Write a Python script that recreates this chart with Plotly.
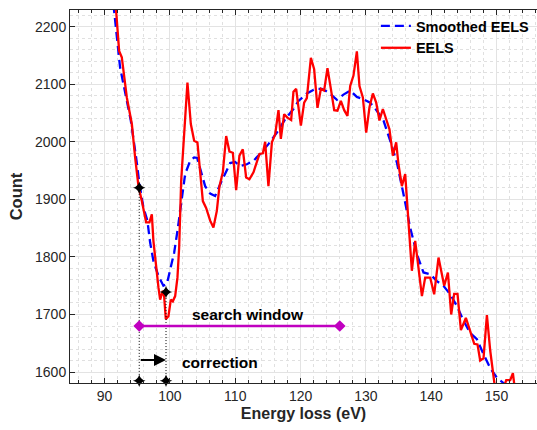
import plotly.graph_objects as go

# ---- data ----
eels_e = [91.2, 91.76, 92.22, 92.63, 93.40, 94.17, 94.67, 95.18, 95.70, 96.36, 96.86, 97.23, 97.47, 97.89,
          98.09, 98.24, 98.50, 98.91, 99.11, 99.37, 99.77, 100.14, 100.44, 100.80, 101.15, 101.41, 101.72,
          102.17, 102.68, 103.20, 103.71, 104.21, 105.04, 105.54, 106.16, 106.66, 107.18, 107.58, 108.10,
          108.61, 109.11, 109.63, 110.14, 110.64, 111.16, 111.67, 112.17, 112.79, 113.31, 113.71, 114.23,
          114.58, 115.08, 115.61, 116.11, 116.62, 116.98, 117.49, 117.99, 118.56, 118.91, 119.33, 119.68,
          120.05, 120.55, 120.96, 121.58, 122.08, 122.59, 123.11, 123.61, 124.12, 124.64, 125.15, 125.65,
          126.17, 126.68, 127.18, 127.60, 128.10, 128.62, 129.02, 129.54, 130.05, 130.55, 131.07, 131.58,
          132.08, 132.60, 133.22, 133.61, 134.13, 134.64, 134.99, 135.51, 136.02, 136.52, 137.04, 137.55,
          138.05, 138.58, 139.08, 139.85, 140.46, 141.12, 141.53, 141.99, 142.56, 143.06, 143.52, 144.03,
          144.55, 145.31, 145.97, 146.59, 147.09, 147.50, 148.01, 148.53, 149.04, 149.80, 150.57, 151.49,
          152.10, 152.51, 152.87]
eels_counts = [2270, 2228, 2158, 2147, 2077, 2031, 1973, 1923, 1897, 1860, 1860, 1874, 1828, 1779,
               1758, 1747, 1726, 1741, 1732, 1692, 1697, 1726, 1723, 1732, 1764, 1816, 1932,
               2010, 2103, 2031, 2002, 1999, 1897, 1885, 1863, 1851, 1880, 1923, 1947,
               2010, 1983, 1981, 1916, 1976, 1987, 1938, 1935, 1947, 1967, 1979, 1980,
               2000, 1923, 1999, 2013, 2055, 2005, 2048, 2042, 2038, 2087, 2092, 2060,
               2028, 2068, 2076, 2146, 2126, 2059, 2092, 2089, 2128, 2092, 2055, 2054,
               2071, 2055, 2045, 2097, 2115, 2157, 2097, 2077, 2016, 2060, 2084, 2068,
               2037, 2057, 2037, 2022, 1976, 1999, 1961, 1923, 1944, 1857, 1776, 1828,
               1779, 1732, 1764, 1764, 1735, 1799, 1776, 1750, 1773, 1700, 1736, 1736,
               1673, 1694, 1671, 1649, 1648, 1620, 1624, 1699, 1637, 1570, 1555, 1586,
               1586, 1598, 1565]

smooth_e = [90.84, 91.45, 92.37, 93.14, 94.01, 94.82, 95.33, 95.94, 96.55, 96.97, 97.47, 98.24, 99.00,
            99.53, 100.03, 100.64, 101.15, 101.56, 102.07, 102.33, 103.09, 103.71, 104.17, 104.62, 105.39,
            106.16, 106.92, 107.69, 108.45, 109.22, 109.98, 110.75, 111.78, 112.79, 113.81, 115.08, 116.37,
            117.64, 118.91, 119.68, 120.96, 122.24, 123.26, 124.27, 125.56, 126.57, 127.60, 128.62, 129.63,
            130.66, 131.68, 132.70, 133.72, 134.75, 135.76, 136.78, 137.81, 138.82, 139.85, 140.87, 141.88,
            142.91, 143.93, 144.95, 145.97, 147.00, 148.01, 149.04, 150.06, 151.07, 152.10]
smooth_counts = [2263, 2228, 2129, 2083, 2037, 1973, 1927, 1886, 1863, 1825, 1793, 1767, 1750,
                 1753, 1776, 1807, 1845, 1880, 1915, 1944, 1967, 1973, 1972, 1953, 1923,
                 1910, 1906, 1926, 1946, 1963, 1965, 1958, 1961, 1967, 1979, 1996, 2016,
                 2039, 2057, 2071, 2084, 2092, 2092, 2086, 2073, 2082, 2089, 2078, 2074,
                 2068, 2054, 2037, 2002, 1964, 1909, 1851, 1805, 1773, 1770, 1758, 1750,
                 1735, 1715, 1689, 1668, 1657, 1631, 1607, 1590, 1581, 1567]

marker_e = [95.3, 99.4]
marker_counts = [1920, 1739]
axis_marker_counts = [1585, 1585]

window_e = [95.3, 126.0]
window_counts = [1680, 1680]
window_label_e = 111.9
correction_y = 1621

x_ticks = [90, 100, 110, 120, 130, 140, 150]
y_ticks = [1600, 1700, 1800, 1900, 2000, 2100, 2200]
x_range = [84.7, 156.2]
y_range = [1581, 2229]

FONT = "Liberation Sans"
fig = go.Figure()

fig.add_trace(go.Scatter(x=smooth_e, y=smooth_counts, mode="lines", name="Smoothed EELS",
                         line=dict(color="#0000ff", width=2.3, dash="9px,5px")))
fig.add_trace(go.Scatter(x=eels_e, y=eels_counts, mode="lines", name="EELS",
                         line=dict(color="#ff0000", width=2.3)))

# dotted guide lines
for e, c in zip(marker_e, marker_counts):
    fig.add_trace(go.Scatter(x=[e, e], y=[c, axis_marker_counts[0]], mode="lines", showlegend=False,
                             line=dict(color="black", width=1, dash="1px,2px"), hoverinfo="skip"))

fig.add_trace(go.Scatter(x=marker_e + marker_e, y=marker_counts + axis_marker_counts, mode="markers",
                         showlegend=False, cliponaxis=False,
                         marker=dict(symbol="star-diamond", size=9, color="black")))

# search window
fig.add_trace(go.Scatter(x=window_e, y=window_counts, mode="lines+markers", showlegend=False,
                         line=dict(color="#c000c0", width=2.5),
                         marker=dict(symbol="diamond", size=9, color="#c000c0")))
fig.add_annotation(x=window_label_e, y=window_counts[0], text="<b>search window</b>",
                   showarrow=False, yanchor="bottom", yshift=1,
                   font=dict(family=FONT, size=15.5, color="black"))
# correction arrow
fig.add_annotation(x=marker_e[1], y=correction_y, ax=marker_e[0], ay=correction_y,
                   xref="x", yref="y", axref="x", ayref="y", text="", showarrow=True,
                   arrowhead=2, arrowsize=1.2, arrowwidth=2, arrowcolor="black")
fig.add_annotation(x=marker_e[1] + 2.2, y=correction_y, text="<b>correction</b>", showarrow=False,
                   xanchor="left", yanchor="middle", yshift=-3,
                   font=dict(family=FONT, size=15.5, color="black"))

axis_common = dict(showline=True, linecolor="#262626", linewidth=1, ticks="inside", ticklen=5,
                   tickcolor="#262626", showgrid=True, gridcolor="#e3e3e3", gridwidth=1,
                   zeroline=False, tickfont=dict(family=FONT, size=14, color="#262626"))

fig.update_xaxes(range=x_range, tickvals=x_ticks, mirror="ticks",
                 title=dict(text="<b>Energy loss (eV)</b>", font=dict(family=FONT, size=16, color="#262626"),
                            standoff=5),
                 minor=dict(dtick=2, tick0=0, ticks="inside", ticklen=3, tickcolor="#262626",
                            showgrid=True, gridcolor="#e0e0e0", griddash="dot", gridwidth=1),
                 **axis_common)
fig.update_yaxes(range=y_range, tickvals=y_ticks,
                 title=dict(text="<b>Count</b>", font=dict(family=FONT, size=16.5, color="#262626"),
                            standoff=8),
                 minor=dict(dtick=20, tick0=0, ticks="", showgrid=True, gridcolor="#e0e0e0",
                            griddash="dot", gridwidth=1),
                 **axis_common)

fig.update_layout(width=537, height=430, margin=dict(l=70, r=0, t=10, b=47, autoexpand=False),
                  plot_bgcolor="white", paper_bgcolor="white",
                  legend=dict(x=0.655, y=1.0, xanchor="left", yanchor="top", bgcolor="rgba(0,0,0,0)",
                              font=dict(family=FONT, size=14.5, color="black"), tracegroupgap=0,
                              itemwidth=30),
                  showlegend=True)
fig.for_each_trace(lambda t: t.update(name=f"<b>{t.name}</b>") if t.name else None)

fig.write_html("out.html")
